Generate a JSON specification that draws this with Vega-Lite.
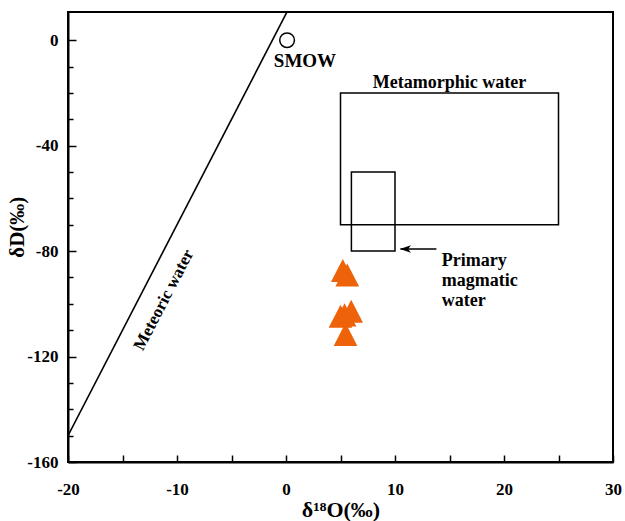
{
  "$schema": "https://vega.github.io/schema/vega-lite/v6.json",
  "width": 545,
  "height": 450,
  "autosize": {"type": "none"},
  "padding": {"left": 68, "top": 12, "right": 12, "bottom": 59},
  "background": "white",
  "config": {
    "view": {"stroke": "black", "strokeWidth": 2},
    "font": "Liberation Serif",
    "axis": {
      "labelFont": "Liberation Serif", "labelFontWeight": "bold", "labelFontSize": 17, "labelColor": "black",
      "titleFont": "Liberation Serif", "titleFontWeight": "bold", "titleFontSize": 22, "titleColor": "black",
      "domainColor": "black", "domainWidth": 2, "tickColor": "black", "tickWidth": 1.5, "grid": false
    }
  },
  "datasets": {
    "boxes": [
      {"name": "Metamorphic water", "x": 5, "x2": 25, "y": -20, "y2": -70},
      {"name": "Primary magmatic water", "x": 6, "x2": 10, "y": -50, "y2": -80}
    ],
    "meteoric": [
      {"x": -20, "y": -150},
      {"x": 1, "y": 18}
    ],
    "samples": [
      {"x": 5.21, "y": -87.5},
      {"x": 5.62, "y": -89.2},
      {"x": 5.0, "y": -104.8},
      {"x": 5.37, "y": -104.3},
      {"x": 5.98, "y": -102.9},
      {"x": 5.46, "y": -111.7}
    ],
    "smow": [{"x": 0.1, "y": 0}],
    "arrow": [{"x": 10.5, "x2": 13.8, "y": -79.2}],
    "labels": [
      {"label": "SMOW", "x": 1.74, "y": -7.7, "angle": 0, "size": 19},
      {"label": "Metamorphic water", "x": 15, "y": -16.3, "angle": 0, "size": 18},
      {"label": "Meteoric water", "x": -11.2, "y": -98.5, "angle": -62.6, "size": 17}
    ],
    "magmatic": [{"label": ["Primary", "magmatic", "water"], "x": 14.3, "y": -83.6}]
  },
  "encoding": {
    "x": {"field": "x", "type": "quantitative",
      "scale": {"domain": [-20, 30], "nice": false, "zero": false},
      "axis": {"title": "δ¹⁸O(‰)", "values": [-20, -15, -10, -5, 0, 5, 10, 15, 20, 25, 30],
        "labelExpr": "datum.value % 10 === 0 ? '' + datum.value : ''", "tickSize": -7, "labelPadding": 26,
        "titlePadding": 2, "labelFlush": false}},
    "y": {"field": "y", "type": "quantitative",
      "scale": {"domain": [-160, 10.7], "nice": false, "zero": false},
      "axis": {"title": "δD(‰)", "values": [-160, -150, -140, -130, -120, -110, -100, -90, -80, -70, -60, -50, -40, -30, -20, -10, 0],
        "labelExpr": "datum.value % 40 === 0 ? '' + datum.value : ''",
        "tickSize": {"condition": {"test": "datum.value % 40 === 0", "value": -8}, "value": -5},
        "labelPadding": 18, "titleX": -51, "titleY": 214.7, "titleAlign": "center", "titleBaseline": "middle", "titleAngle": 270, "titleFontSize": 21}}
  },
  "layer": [
    {
      "data": {"name": "boxes"},
      "mark": {"type": "rect", "fill": null, "stroke": "black", "strokeWidth": 1.5, "clip": true},
      "encoding": {
        "x2": {"field": "x2"},
        "y2": {"field": "y2"}
      }
    },
    {
      "data": {"name": "meteoric"},
      "mark": {"type": "line", "color": "black", "strokeWidth": 1.6, "clip": true},
      "encoding": {}
    },
    {
      "data": {"name": "smow"},
      "mark": {"type": "point", "shape": "circle", "size": 215, "filled": false, "stroke": "black", "strokeWidth": 1.5, "opacity": 1},
      "encoding": {}
    },
    {
      "data": {"name": "samples"},
      "mark": {"type": "point", "shape": "M0,-1 L1,0.95 L-1,0.95 Z", "size": 560, "filled": true, "fill": "#EE620A", "stroke": null, "opacity": 1},
      "encoding": {}
    },
    {
      "data": {"name": "arrow"},
      "mark": {"type": "rule", "color": "black", "strokeWidth": 1.6},
      "encoding": {
        "x2": {"field": "x2"}
      }
    },
    {
      "data": {"name": "arrow"},
      "mark": {"type": "point", "shape": "M-1,0 L1,-0.7 L0.5,0 L1,0.7 Z", "size": 120, "filled": true, "fill": "black", "stroke": null, "opacity": 1, "xOffset": 5},
      "encoding": {}
    },
    {
      "data": {"name": "labels"},
      "mark": {"type": "text", "font": "Liberation Serif", "fontWeight": "bold", "color": "black", "baseline": "middle", "align": "center"},
      "encoding": {
        "text": {"field": "label"},
        "angle": {"field": "angle", "type": "quantitative", "scale": null},
        "size": {"field": "size", "type": "quantitative", "scale": null}
      }
    },
    {
      "data": {"name": "magmatic"},
      "mark": {"type": "text", "font": "Liberation Serif", "fontWeight": "bold", "color": "black", "fontSize": 18, "align": "left", "baseline": "middle", "lineHeight": 20},
      "encoding": {
        "text": {"field": "label"}
      }
    }
  ]
}
